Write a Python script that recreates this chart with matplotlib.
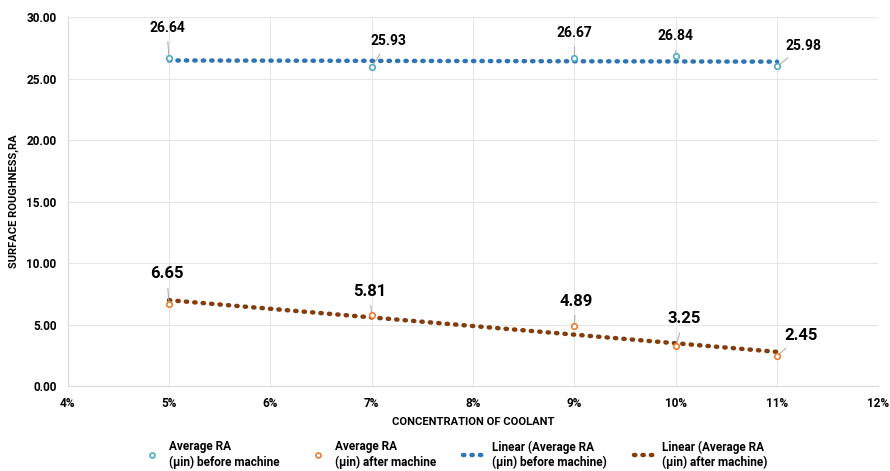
import numpy as np
import matplotlib.pyplot as plt

plt.rcParams['font.family'] = ['Roboto', 'Liberation Sans', 'DejaVu Sans']

concentration = [5, 7, 9, 10, 11]          # percent
ra_before = [26.64, 25.93, 26.67, 26.84, 25.98]
ra_after = [6.65, 5.81, 4.89, 3.25, 2.45]
x_ticks = [4, 5, 6, 7, 8, 9, 10, 11, 12]
y_ticks = [0, 5, 10, 15, 20, 25, 30]

# label offsets (points) for the data labels
off_before = [(-1.5, 22), (12, 19), (0, 18), (0, 14), (19, 15)]
off_after = [(-1.5, 22), (-1.5, 17), (1, 18), (6, 20), (17, 15)]

c_before = '#4bacc6'
c_after = '#ed7d31'
c_lin_before = '#2e75b6'
c_lin_after = '#843c0c'

fig = plt.figure(figsize=(8.9, 4.71), dpi=100)
ax = fig.add_axes([0.076, 0.18, 0.911, 0.784])

x = np.array(concentration, dtype=float)
xs = np.linspace(x.min(), x.max(), 100)

# linear trendlines (least squares, like Excel)
p_b = np.polyfit(x, ra_before, 1)
p_a = np.polyfit(x, ra_after, 1)

ax.plot(x, ra_before, 'o', mfc='white', mec=c_before, ms=4, mew=1.2, zorder=4,
        label='Average RA\n(µin) before machine')
ax.plot(x, ra_after, 'o', mfc='white', mec=c_after, ms=4, mew=1.2, zorder=4,
        label='Average RA\n(µin) after machine')
ax.plot(xs, np.polyval(p_b, xs), color=c_lin_before, lw=3.2, ls=(0, (0.3, 1.6)),
        dash_capstyle='round', zorder=3, label='Linear (Average RA\n(µin) before machine)')
ax.plot(xs, np.polyval(p_a, xs), color=c_lin_after, lw=3.2, ls=(0, (0.3, 1.6)),
        dash_capstyle='round', zorder=3, label='Linear (Average RA\n(µin) after machine)')

for xi, yi, off in zip(concentration, ra_before, off_before):
    ax.annotate(f'{yi:.2f}', (xi, yi), xytext=off, textcoords='offset points',
                ha='center', va='center', fontsize=10, fontweight='bold',
                arrowprops=dict(arrowstyle='-', color='#a6a6a6', lw=0.7, shrinkA=3, shrinkB=2))
for xi, yi, off in zip(concentration, ra_after, off_after):
    ax.annotate(f'{yi:.2f}', (xi, yi), xytext=off, textcoords='offset points',
                ha='center', va='center', fontsize=12, fontweight='bold',
                arrowprops=dict(arrowstyle='-', color='#a6a6a6', lw=0.7, shrinkA=3, shrinkB=2))

ax.set_xlim(4, 12)
ax.set_ylim(0, 30)
ax.set_xticks(x_ticks)
ax.set_xticklabels([f'{t}%' for t in x_ticks])
ax.set_yticks(y_ticks)
ax.set_yticklabels([f'{t:.2f}' for t in y_ticks])
ax.grid(True, color='#e6e6e6', lw=0.8)
ax.set_axisbelow(True)
for s in ['top', 'right']:
    ax.spines[s].set_visible(False)
ax.spines['bottom'].set_color('#d9d9d9')
ax.spines['left'].set_color('#d9d9d9')
ax.tick_params(length=0, labelsize=8.5, colors='black', pad=8)
for lab in ax.get_xticklabels() + ax.get_yticklabels():
    lab.set_fontweight('bold')

ax.set_xlabel('CONCENTRATION OF COOLANT', fontsize=8, fontweight='bold', labelpad=5)
ax.set_ylabel('SURFACE ROUGHNESS,RA', fontsize=8, fontweight='bold', labelpad=5)

leg = fig.legend(loc='lower center', bbox_to_anchor=(0.51, -0.018), ncol=4, frameon=False,
                 prop={'size': 8.5, 'weight': 'bold'}, handlelength=2, handletextpad=0.4,
                 columnspacing=2.3, markerscale=0.9)

fig.savefig('out.png', dpi=100)
